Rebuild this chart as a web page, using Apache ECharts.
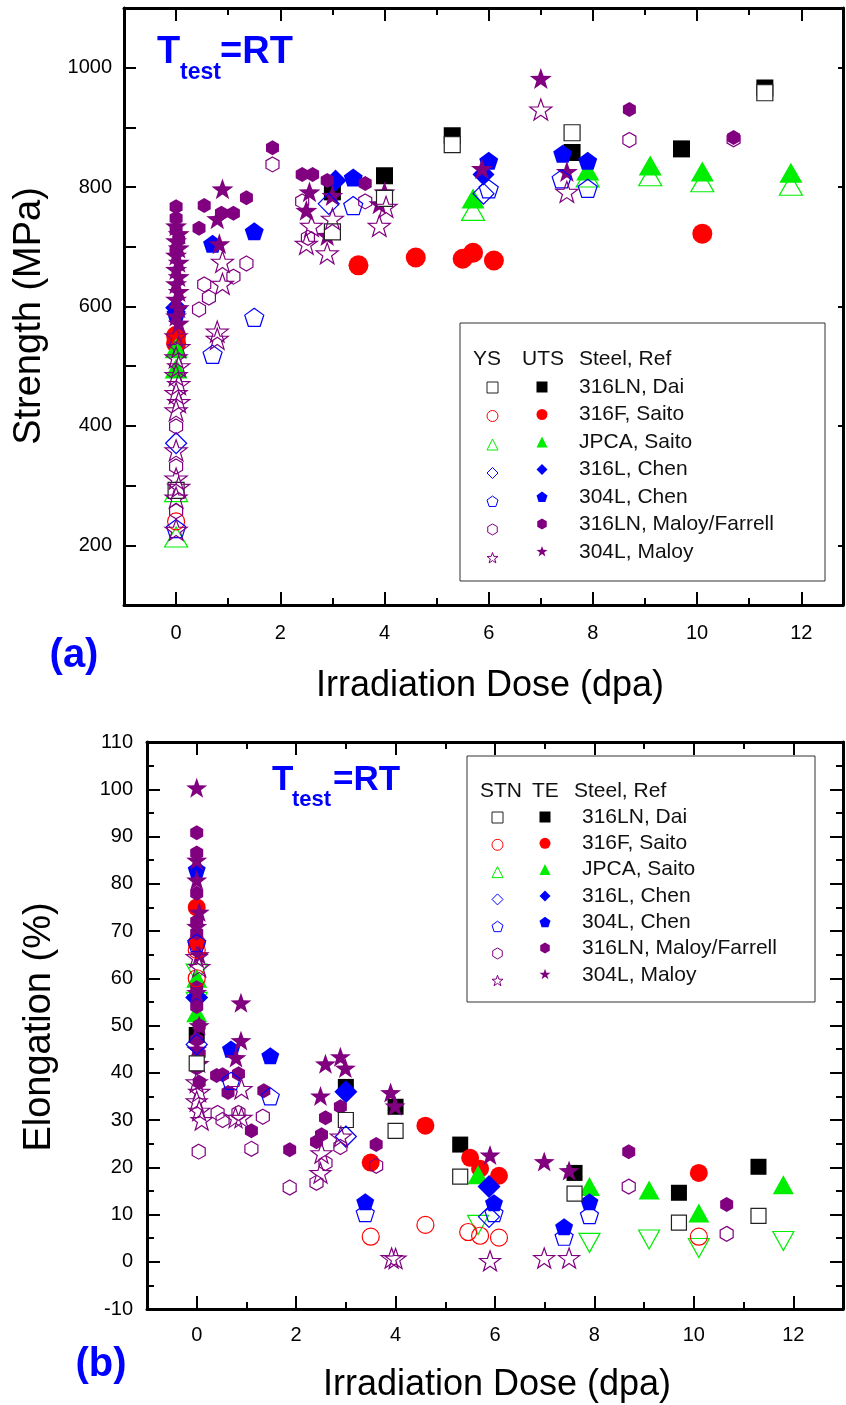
<!DOCTYPE html>
<html>
<head>
<meta charset="utf-8">
<script src="https://cdn.jsdelivr.net/npm/echarts@6/dist/echarts.min.js"></script>
<style>
html, body { margin: 0; padding: 0; background: #fff; }
#main { width: 846px; height: 1405px; }
</style>
</head>
<body>
<div id="main"></div>
<script>
// ---- (a) strength vs dose: [dose dpa, MPa]
var daiYS = [[0, 292], [3.0, 725], [4.0, 781], [5.3, 871], [7.6, 891], [11.3, 958]];
var daiUTS = [[3.0, 792], [4.0, 819], [5.3, 886], [7.6, 858], [9.7, 864], [11.3, 966]];
var saitoFYS = [[0, 240]];
var saitoFUTS = [[0, 551], [0, 538], [3.5, 669], [4.6, 682], [5.5, 680], [5.7, 690], [6.1, 677], [10.1, 722]];
var jpcaYS = [[0, 290], [0, 214], [5.7, 761], [7.9, 817], [9.1, 819], [10.1, 809], [11.8, 803]];
var jpcaUTS = [[0, 530], [0, 496], [5.7, 781], [7.9, 828], [9.1, 836], [10.1, 826], [11.8, 824]];
var chen316YS = [[0, 371], [2.93, 772], [5.9, 789]];
var chen316UTS = [[0, 598], [3.06, 811], [5.9, 821]];
var chen304YS = [[0, 228], [0.7, 520], [1.5, 582], [3.4, 769], [6.0, 797], [7.4, 814], [7.9, 798]];
var chen304UTS = [[0, 588], [0.7, 705], [1.5, 726], [3.4, 816], [6.0, 844], [7.42, 856], [7.9, 844]];
var maloyLnYS = [[0, 399], [0, 332], [0, 257], [0.44, 595], [0.54, 637], [0.63, 615], [1.1, 650], [1.35, 672],
  [1.85, 838], [2.42, 776], [2.53, 715], [3.63, 776], [8.7, 879], [10.7, 880]];
var maloyLnUTS = [[0, 767], [0, 748], [0, 728], [0.05, 712], [0, 695], [0.44, 731], [0.54, 769], [0.87, 756],
  [1.1, 756], [1.35, 782], [1.85, 866], [2.42, 821], [2.62, 821], [2.9, 811], [3.63, 806], [8.7, 930], [10.7, 883]];
var maloy304YS = [[0, 550], [0.05, 532], [0, 515], [0.05, 500], [0, 485], [0.05, 470], [0, 455], [0.05, 440],
  [0, 426], [0, 359], [0, 312], [0.05, 298], [0, 280], [0, 226], [0.79, 558], [0.79, 546], [0.89, 638],
  [0.89, 675], [2.5, 705], [2.6, 735], [2.9, 689], [3.0, 747], [3.9, 735], [4.03, 767], [7.0, 930], [7.5, 792]];
var maloy304UTS = [[0, 735], [0.05, 722], [0, 710], [0.05, 698], [0, 686], [0.05, 674], [0, 662], [0.05, 650],
  [0, 638], [0.05, 625], [0, 612], [0.05, 598], [0, 584], [0.05, 572], [0.79, 747], [0.83, 705], [0.89, 797],
  [2.5, 761], [2.56, 792], [2.9, 719], [3.0, 786], [3.9, 772], [4.0, 792], [5.87, 831], [7.0, 982], [7.5, 826]];

// ---- (b) elongation vs dose: [dose dpa, %]
var daiSTN = [[0, 42], [3.0, 30], [4.0, 27.7], [5.3, 18], [7.6, 14.4], [9.7, 8.3], [11.3, 9.7]];
var daiTE = [[0, 48], [3.0, 37], [4.0, 32.8], [5.3, 24.8], [7.6, 18.8], [9.7, 14.6], [11.3, 20.1]];
var saitoFSTN = [[0, 66], [0, 60], [3.5, 5.3], [4.6, 7.8], [5.46, 6.3], [5.7, 5.5], [6.08, 5.1], [10.1, 5.3]];
var saitoFTE = [[0, 75], [0, 67.5], [3.5, 21], [4.6, 28.8], [5.5, 22], [5.7, 19.7], [6.08, 18.2], [10.1, 18.8]];
var jpcaSTN = [[0, 61], [0, 55], [5.66, 7.8], [7.9, 4], [9.1, 4.7], [10.1, 2.9], [11.8, 4.4]];
var jpcaTE = [[0, 60], [0, 52.7], [5.66, 18.4], [7.9, 15.9], [9.1, 15.2], [10.1, 10.3], [11.8, 16.3]];
var chen316STN = [[0, 46], [3.0, 26.5], [5.88, 9.5]];
var chen316TE = [[0, 55.9], [3.0, 36], [5.88, 15.9]];
var chen304STN = [[0, 67.5], [0.69, 38.3], [1.48, 35], [3.39, 10.3], [5.98, 10.3], [7.39, 5.3], [7.9, 9.9]];
var chen304TE = [[0, 83], [0.69, 45], [1.48, 43.6], [3.39, 12.7], [5.98, 12.5], [7.39, 7.4], [7.9, 12.7]];
var maloyLnSTN = [[0.04, 23.3], [0.42, 31.5], [0.52, 30], [0.84, 31.5], [1.1, 23.9], [1.33, 30.7], [1.87, 15.7],
  [2.41, 16.7], [2.59, 20.9], [2.89, 24.3], [3.61, 20.3], [8.69, 15.9], [10.66, 5.9]];
var maloyLnTE = [[0, 90.8], [0, 86.5], [0, 78], [0, 72], [0, 69.6], [0, 58], [0, 54], [0.05, 50], [0, 47],
  [0.05, 44], [0, 41], [0.05, 38], [0.4, 39.4], [0.52, 39.6], [0.84, 39.8], [0.63, 35.8], [1.35, 36.2], [1.1, 27.7],
  [1.87, 23.7], [2.41, 25.4], [2.51, 26.9], [2.59, 30.5], [2.89, 32.8], [3.61, 24.8], [8.69, 23.3], [10.66, 12.1]];
var maloy304STN = [[0, 64.5], [0.05, 62.4], [0, 38], [0.05, 36], [0, 34], [0.05, 32], [0.1, 30], [0.78, 30.5],
  [0.9, 30.5], [0.9, 36.6], [2.49, 18.8], [2.51, 23], [2.9, 26.5], [3.92, 0.8], [4.0, 0.7], [5.9, 0.2],
  [6.99, 0.8], [7.49, 0.8]];
var maloy304TE = [[0, 100.3], [0, 85], [0, 80.8], [0.05, 74], [0, 71], [0.05, 65], [0, 57], [0.05, 50], [0, 45],
  [0.05, 42], [0.89, 54.8], [0.89, 46.8], [0.79, 43.2], [2.49, 35.1], [2.59, 41.9], [2.89, 43.4], [2.99, 41],
  [3.9, 35.8], [3.99, 33], [5.9, 22.6], [6.99, 21.2], [7.49, 19.3]];

var steelLabels = ['316LN, Dai', '316F, Saito', 'JPCA, Saito', '316L, Chen', '304L, Chen', '316LN, Maloy/Farrell', '304L, Maloy'];
var evenTicks = [0, 2, 4, 6, 8, 10, 12];
var strengthLabels = [200, 400, 600, 800, 1000];

var FONT = '"Liberation Sans", Arial, sans-serif';

// polygon / star symbols
function shapePath(n, inner) {
  var pts = [];
  var cnt = inner ? n * 2 : n;
  for (var i = 0; i < cnt; i++) {
    var r = (inner && i % 2) ? inner : 1;
    var a = -Math.PI / 2 + i * 2 * Math.PI / cnt;
    pts.push((r * Math.cos(a)).toFixed(4) + ',' + (r * Math.sin(a)).toFixed(4));
  }
  return 'path://M' + pts.join('L') + 'Z';
}
var PENTAGON = shapePath(5);
var HEXAGON = shapePath(6);
var STAR = shapePath(5, 0.4);

var BLACK = '#000000', RED = '#ff0000', GREEN = '#00ee00', BLUE = '#0000ff', PURPLE = '#800080';

// one scatter series
function sc(name, data, g, symbol, size, color, hollow, fill, rot) {
  return {
    type: 'scatter', name: name, data: data,
    xAxisIndex: g * 4, yAxisIndex: g * 2,
    symbol: symbol, symbolSize: size, symbolKeepAspect: true, symbolRotate: rot || 0,
    itemStyle: hollow ? { color: fill || 'rgba(255,255,255,0)', borderColor: color, borderWidth: 1.2, opacity: 1 }
                      : { color: color, borderWidth: 0, opacity: 1 },
    emphasis: { disabled: true }
  };
}

var nA = steelLabels.map(function (s) { return [s + ' YS', s + ' UTS']; });
var nB = steelLabels.map(function (s) { return [s + ' STN', s + ' TE']; });

var series = [
  // chart (a)
  sc(nA[2][0], jpcaYS, 0, 'triangle', [23, 20], GREEN, true),
  sc(nA[0][1], daiUTS, 0, 'rect', 17, BLACK, false),
  sc(nA[1][1], saitoFUTS, 0, 'circle', 20, RED, false),
  sc(nA[2][1], jpcaUTS, 0, 'triangle', [23, 20], GREEN, false),
  sc(nA[3][1], chen316UTS, 0, 'diamond', [22, 22], BLUE, false),
  sc(nA[4][1], chen304UTS, 0, PENTAGON, 19, BLUE, false),
  sc(nA[5][1], maloyLnUTS, 0, HEXAGON, 15, PURPLE, false),
  sc(nA[6][1], maloy304UTS, 0, STAR, 22, PURPLE, false),
  sc(nA[0][0], daiYS, 0, 'rect', 16, '#222', true, '#fff'),
  sc(nA[1][0], saitoFYS, 0, 'circle', 17, RED, true),
  sc(nA[3][0], chen316YS, 0, 'diamond', [21, 21], BLUE, true),
  sc(nA[4][0], chen304YS, 0, PENTAGON, 19, BLUE, true),
  sc(nA[5][0], maloyLnYS, 0, HEXAGON, 15, PURPLE, true),
  sc(nA[6][0], maloy304YS, 0, STAR, 22, PURPLE, true),
  // chart (b)
  sc(nB[2][0], jpcaSTN, 1, 'triangle', [21, 19], GREEN, true, null, 180),
  sc(nB[0][1], daiTE, 1, 'rect', 16, BLACK, false),
  sc(nB[1][1], saitoFTE, 1, 'circle', 18, RED, false),
  sc(nB[2][1], jpcaTE, 1, 'triangle', [21, 19], GREEN, false),
  sc(nB[3][1], chen316TE, 1, 'diamond', [23, 23], BLUE, false),
  sc(nB[4][1], chen304TE, 1, PENTAGON, 18, BLUE, false),
  sc(nB[5][1], maloyLnTE, 1, HEXAGON, 15, PURPLE, false),
  sc(nB[6][1], maloy304TE, 1, STAR, 21, PURPLE, false),
  sc(nB[0][0], daiSTN, 1, 'rect', 15, '#222', true, '#fff'),
  sc(nB[1][0], saitoFSTN, 1, 'circle', 17, RED, true),
  sc(nB[3][0], chen316STN, 1, 'diamond', [21, 21], BLUE, true),
  sc(nB[4][0], chen304STN, 1, PENTAGON, 18, BLUE, true),
  sc(nB[5][0], maloyLnSTN, 1, HEXAGON, 15, PURPLE, true),
  sc(nB[6][0], maloy304STN, 1, STAR, 21, PURPLE, true)
];

// x axes: main (short ticks + labels) and overlay (long ticks) on both bottom and top
function xAxes(g, max, margin) {
  var base = { type: 'value', gridIndex: g, min: -1, max: max, interval: 1, splitLine: { show: false } };
  var tickStyle = { color: '#000', width: 2 };
  function main(pos, labels) {
    return Object.assign({}, base, {
      position: pos,
      axisLine: { onZero: false, lineStyle: { color: '#000', width: 3 } },
      axisTick: { inside: true, length: 7, lineStyle: tickStyle },
      axisLabel: {
        show: labels, margin: margin, fontSize: 20, color: '#000', fontFamily: FONT,
        formatter: function (v) { return (v >= 0 && v % 2 === 0) ? String(v) : ''; }
      }
    });
  }
  function longTicks(pos) {
    return Object.assign({}, base, {
      position: pos,
      axisLine: { show: false, onZero: false },
      axisTick: { inside: true, length: 13, lineStyle: tickStyle, customValues: evenTicks },
      axisLabel: { show: false }
    });
  }
  return [main('bottom', true), longTicks('bottom'), main('top', false), longTicks('top')];
}

var xAxis = xAxes(0, 12.8, 18).concat(xAxes(1, 13, 16));

var yAxis = [
  {
    type: 'value', gridIndex: 0, position: 'left', min: 100, max: 1100, interval: 100,
    splitLine: { show: false },
    axisLine: { onZero: false, lineStyle: { color: '#000', width: 3 } },
    axisTick: { inside: true, length: 12, lineStyle: { color: '#000', width: 2 } },
    axisLabel: {
      margin: 12, fontSize: 20, color: '#000', fontFamily: FONT,
      formatter: function (v) { return strengthLabels.indexOf(v) >= 0 ? String(v) : ''; }
    }
  },
  {
    type: 'value', gridIndex: 0, position: 'right', min: 100, max: 1100, interval: 100,
    splitLine: { show: false },
    axisLine: { onZero: false, lineStyle: { color: '#000', width: 3 } },
    axisTick: { inside: true, length: 5, lineStyle: { color: '#000', width: 2 }, customValues: strengthLabels },
    axisLabel: { show: false }
  },
  {
    type: 'value', gridIndex: 1, position: 'left', min: -10, max: 110, interval: 10,
    splitLine: { show: false },
    axisLine: { onZero: false, lineStyle: { color: '#000', width: 3 } },
    axisTick: { inside: true, length: 13, lineStyle: { color: '#000', width: 2 } },
    minorTick: { show: true, splitNumber: 2, length: 7, lineStyle: { color: '#000', width: 2 } },
    axisLabel: { margin: 14, fontSize: 20, color: '#000', fontFamily: FONT }
  },
  {
    type: 'value', gridIndex: 1, position: 'right', min: -10, max: 110, interval: 10,
    splitLine: { show: false },
    axisLine: { onZero: false, lineStyle: { color: '#000', width: 3 } },
    axisTick: { inside: true, length: 13, lineStyle: { color: '#000', width: 2 } },
    minorTick: { show: true, splitNumber: 2, length: 7, lineStyle: { color: '#000', width: 2 } },
    axisLabel: { show: false }
  }
];

// legends: icon columns only, labels are graphic texts
function iconLegend(names, left, top, gap, hollow) {
  return {
    orient: 'vertical', left: left, top: top, padding: 0,
    itemWidth: 11, itemHeight: 11, itemGap: gap, selectedMode: false,
    data: names, formatter: function () { return ''; },
    textStyle: { fontSize: 10, lineHeight: 10 },
    itemStyle: { borderWidth: hollow ? 1 : 0 }
  };
}
var legend = [
  iconLegend(nA.map(function (p) { return p[0]; }), 486.5, 381.5, 16.5, true),
  iconLegend(nA.map(function (p) { return p[1]; }), 536.5, 381.5, 16.5, false),
  iconLegend(nB.map(function (p) { return p[0]; }), 491.5, 811.5, 15.3, true),
  iconLegend(nB.map(function (p) { return p[1]; }), 539.5, 811.5, 15.3, false)
];

function txt(text, x, y, font, color, align, rot) {
  return {
    type: 'text', x: x, y: y, rotation: rot || 0, z: 10,
    style: { text: text, font: font, fill: color || '#000', align: align || 'left', verticalAlign: 'middle' }
  };
}

var graphic = [
  { type: 'rect', z: 1, shape: { x: 460, y: 323, width: 365, height: 258 }, style: { fill: '#fff', stroke: '#333', lineWidth: 1 } },
  { type: 'rect', z: 1, shape: { x: 467, y: 756, width: 348, height: 246 }, style: { fill: '#fff', stroke: '#333', lineWidth: 1 } },
  txt('YS', 473, 359, '21px ' + FONT, '#111'),
  txt('UTS', 522, 359, '21px ' + FONT, '#111'),
  txt('Steel, Ref', 579, 359, '21px ' + FONT, '#111'),
  txt('STN', 480, 791, '21px ' + FONT, '#111'),
  txt('TE', 532, 791, '21px ' + FONT, '#111'),
  txt('Steel, Ref', 574, 791, '21px ' + FONT, '#111'),
  txt('Strength (MPa)', 30, 316, '38px ' + FONT, '#000', 'center', Math.PI / 2),
  txt('Irradiation Dose (dpa)', 490, 686, '36px ' + FONT, '#000', 'center'),
  txt('Elongation (%)', 40, 1027, '38px ' + FONT, '#000', 'center', Math.PI / 2),
  txt('Irradiation Dose (dpa)', 497, 1385, '36px ' + FONT, '#000', 'center'),
  txt('(a)', 74, 656, 'bold 40px ' + FONT, '#0000ff', 'center'),
  txt('(b)', 101, 1365, 'bold 40px ' + FONT, '#0000ff', 'center'),
  txt('T', 157, 53, 'bold 38px ' + FONT, '#0000ff'),
  txt('test', 180, 73, 'bold 23px ' + FONT, '#0000ff'),
  txt('=RT', 220, 53, 'bold 38px ' + FONT, '#0000ff'),
  txt('T', 272, 780, 'bold 35px ' + FONT, '#0000ff'),
  txt('test', 292, 800, 'bold 22px ' + FONT, '#0000ff'),
  txt('=RT', 333, 780, 'bold 35px ' + FONT, '#0000ff')
];
steelLabels.forEach(function (s, i) {
  graphic.push(txt(s, 579, 387 + i * 27.5, '21px ' + FONT, '#111'));
  graphic.push(txt(s, 582, 817 + i * 26.3, '21px ' + FONT, '#111'));
});

var chart = echarts.init(document.getElementById('main'));
chart.setOption({
  animation: false,
  backgroundColor: '#fff',
  grid: [
    { left: 124, top: 8, width: 720, height: 597 },
    { left: 147, top: 742, width: 697, height: 567 }
  ],
  xAxis: xAxis,
  yAxis: yAxis,
  legend: legend,
  graphic: graphic,
  series: series
});
</script>
</body>
</html>
